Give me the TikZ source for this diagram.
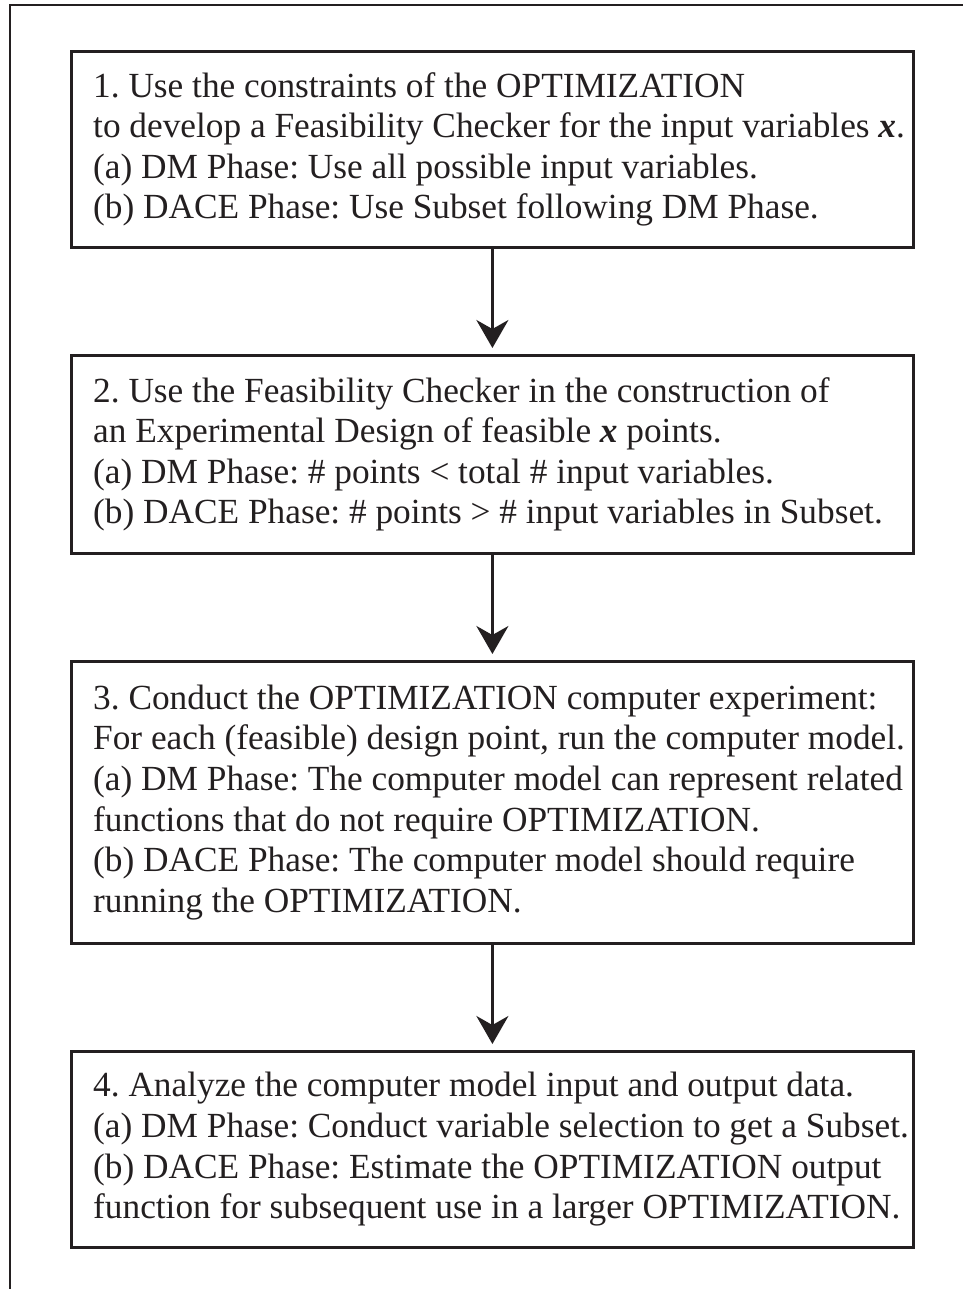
\documentclass[tikz,border=0pt]{standalone}
\usepackage{fontspec}
\setmainfont{Liberation Serif}
\usetikzlibrary{arrows.meta}
\definecolor{ink}{RGB}{35,31,32}
\frenchspacing
\begin{document}
\begin{tikzpicture}[x=1pt,y=-1pt,
  stepbox/.style={draw=ink, line width=2.8pt, rectangle, inner sep=0pt,
    minimum width=842pt, anchor=north west},
  steptext/.style={anchor=west, align=left, inner sep=0pt, text=ink,
    font=\fontsize{35.3}{40.6}\selectfont},
  flow/.style={draw=ink, line width=2.8pt,
    -{Stealth[length=28pt,width=32pt,inset=9pt]}, shorten >=6pt}]
\useasboundingbox (0,0) rectangle (963,1289);

% frame along the top and left edges
\coordinate (fbl) at (10,1289);
\coordinate (ftl) at (10,5);
\coordinate (ftr) at (963,5);
\draw[ink, line width=2.8pt] (fbl) -- (ftl) -- (ftr);

% the four steps
\node[stepbox, minimum height=196pt] (b1) at (70,50) {};
\node[stepbox, minimum height=198pt] (b2) at (70,354) {};
\node[stepbox, minimum height=282pt] (b3) at (70,660) {};
\node[stepbox, minimum height=196pt] (b4) at (70,1050) {};

\node[steptext] (t1) at ([xshift=23pt]b1.west) {1. Use the constraints of the OPTIMIZATION\\
to develop a Feasibility Checker for the input variables {\bfseries\itshape x}.\\
(a) DM Phase: Use all possible input variables.\\
(b) DACE Phase: Use Subset following DM Phase.};

\node[steptext] (t2) at ([xshift=23pt]b2.west) {2. Use the Feasibility Checker in the construction of\\
an Experimental Design of feasible {\bfseries\itshape x} points.\\
(a) DM Phase: \# points < total \# input variables.\\
(b) DACE Phase: \# points > \# input variables in Subset.};

\node[steptext] (t3) at ([xshift=23pt]b3.west) {3. Conduct the OPTIMIZATION computer experiment:\\
For each (feasible) design point, run the computer model.\\
(a) DM Phase: The computer model can represent related\\
functions that do not require OPTIMIZATION.\\
(b) DACE Phase: The computer model should require\\
running the OPTIMIZATION.};

\node[steptext] (t4) at ([xshift=23pt]b4.west) {4. Analyze the computer model input and output data.\\
(a) DM Phase: Conduct variable selection to get a Subset.\\
(b) DACE Phase: Estimate the OPTIMIZATION output\\
function for subsequent use in a larger OPTIMIZATION.};

% connectors
\draw[flow] (b1.south) -- (b2.north);
\draw[flow] (b2.south) -- (b3.north);
\draw[flow] (b3.south) -- (b4.north);
\end{tikzpicture}
\end{document}
